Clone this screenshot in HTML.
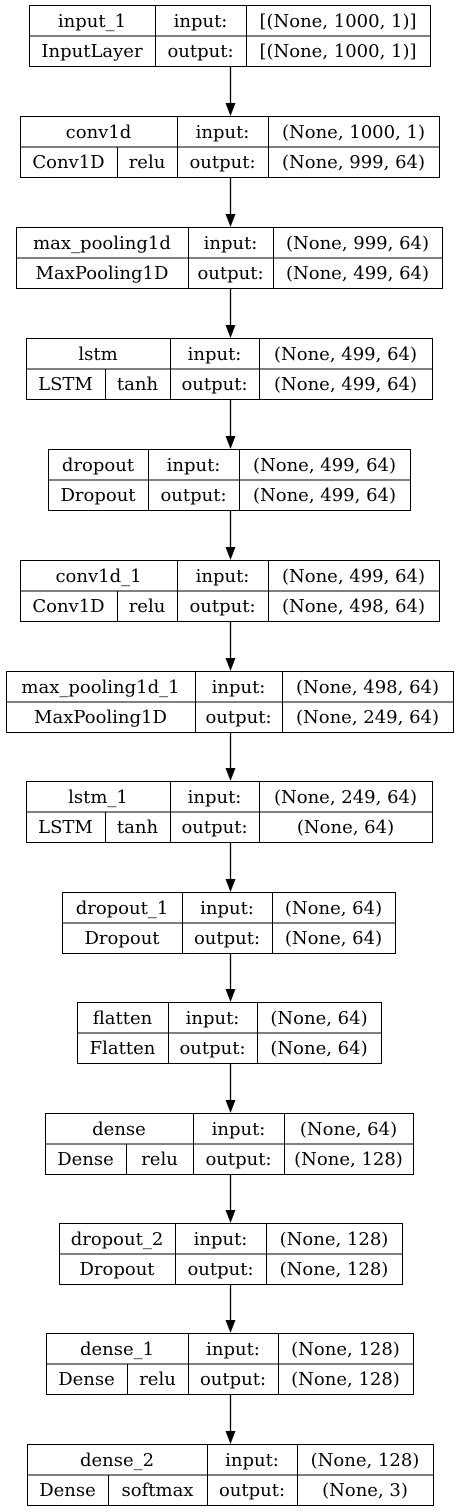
<!DOCTYPE html>
<html><head><meta charset="utf-8"><style>
html,body{margin:0;padding:0;background:#fff;width:459px;height:1512px;overflow:hidden}
svg text{font-family:"DejaVu Serif","Liberation Serif",serif;font-size:18px;fill:#000}
</style></head><body>
<svg id="g" width="459" height="1512" viewBox="0 0 459 1512"></svg>
<script>
const names=["input_1","conv1d","max_pooling1d","lstm","dropout","conv1d_1","max_pooling1d_1","lstm_1","dropout_1","flatten","dense","dropout_2","dense_1","dense_2"];
const types=["InputLayer","Conv1D","MaxPooling1D","LSTM","Dropout","Conv1D","MaxPooling1D","LSTM","Dropout","Flatten","Dense","Dropout","Dense","Dense"];
const acts=["","relu","","tanh","","relu","","tanh","","","relu","","relu","softmax"];
const inShapes=["[(None, 1000, 1)]","(None, 1000, 1)","(None, 999, 64)","(None, 499, 64)","(None, 499, 64)","(None, 499, 64)","(None, 498, 64)","(None, 249, 64)","(None, 64)","(None, 64)","(None, 64)","(None, 128)","(None, 128)","(None, 128)"];
const outShapes=["[(None, 1000, 1)]","(None, 999, 64)","(None, 499, 64)","(None, 499, 64)","(None, 499, 64)","(None, 498, 64)","(None, 249, 64)","(None, 64)","(None, 64)","(None, 64)","(None, 128)","(None, 128)","(None, 128)","(None, 3)"];
// layout geometry
const tops=[5,116,227,338,449,560,671,781,892,1002,1113,1223,1333,1444];
const L=[29,20,16,26,48,20,6,26,62,77,45,59,46,27];
const R=[430,439,442,432,410,439,453,432,395,381,413,402,413,433];
const D1=[155,177,188,170,148,177,195,170,182,168,193,175,188,207];
const D2=[246,268,273,259,239,268,282,259,272,257,284,266,278,297];
const SP=[0,117,0,105,0,117,0,105,0,0,126,0,127,108];
const H=61,CX=230;
const svg=document.getElementById('g');
const NS='http://www.w3.org/2000/svg';
function mk(t,a,p){const e=document.createElementNS(NS,t);for(const k in a)e.setAttribute(k,a[k]);(p||svg).appendChild(e);return e;}
function txt(x,y,s,p){const e=mk('text',{x:x,y:y,'text-anchor':'middle'},p);e.textContent=s;return e;}
for(let i=0;i<names.length;i++){
  const t=tops[i],m=t+H/2;
  const g=mk('g',{});
  
  
  mk('rect',{x:L[i]+.5,y:t+.5,width:R[i]-L[i],height:H,fill:'#fff',stroke:'#000','stroke-width':1},g);
  mk('line',{x1:L[i],y1:m+.5,x2:R[i],y2:m+.5,stroke:'#000'},g);
  mk('line',{x1:D1[i]+.5,y1:t,x2:D1[i]+.5,y2:t+H,stroke:'#000'},g);
  mk('line',{x1:D2[i]+.5,y1:t,x2:D2[i]+.5,y2:t+H,stroke:'#000'},g);
  const y1=t+22,y2=t+52;
  txt((L[i]+D1[i])/2,y1,names[i],g);
  if(acts[i]){
    mk('line',{x1:SP[i]+.5,y1:m,x2:SP[i]+.5,y2:t+H,stroke:'#000'},g);
    txt((L[i]+SP[i])/2,y2,types[i],g);
    txt((SP[i]+D1[i])/2,y2,acts[i],g);
  } else txt((L[i]+D1[i])/2,y2,types[i],g);
  txt((D1[i]+D2[i])/2,y1,'input:',g);
  txt((D1[i]+D2[i])/2,y2,'output:',g);
  txt((D2[i]+R[i])/2,y1,inShapes[i],g);
  txt((D2[i]+R[i])/2,y2,outShapes[i],g);
  if(i<names.length-1){
    const a=mk('g',{});
    
    
    const nt=tops[i+1];
    mk('line',{x1:CX+.5,y1:t+H+1,x2:CX+.5,y2:nt-12,stroke:'#000','stroke-width':1.3},a);
    mk('polygon',{points:`${CX-4.5},${nt-13} ${CX+5.5},${nt-13} ${CX+.5},${nt}`,fill:'#000'},a);
  }
}
</script>
</body></html>
